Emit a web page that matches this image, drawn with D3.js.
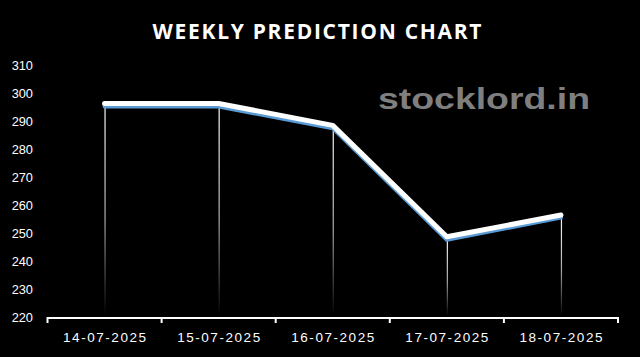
<!DOCTYPE html>
<html>
<head>
<meta charset="utf-8">
<script src="https://cdn.jsdelivr.net/npm/d3@7"></script>
<style>
html,body{margin:0;padding:0;background:#000;}
svg{display:block;}
</style>
</head>
<body>
<svg id="chart" width="640" height="357"></svg>
<script>
const categories = ["14-07-2025","15-07-2025","16-07-2025","17-07-2025","18-07-2025"];
const predicted = [296.6, 296.6, 288.8, 249.0, 256.8];
const actual = [295.5, 295.5, 287.8, 247.9, 255.9];
const yTicks = [220,230,240,250,260,270,280,290,300,310];
const titleText = "WEEKLY PREDICTION CHART";
const watermark = "stocklord.in";

const svg = d3.select("#chart");
svg.append("rect").attr("width",640).attr("height",357).attr("fill","#000");

const x = d3.scaleBand().domain(categories).range([47.5, 618]).paddingInner(0).paddingOuter(0);
const y = d3.scaleLinear().domain([220,310]).range([318,66]);
const cx = d => x(d) + x.bandwidth()/2;

// title
svg.append("text").attr("x",317).attr("y",39)
  .attr("text-anchor","middle")
  .attr("font-family","'Open Sans', sans-serif").attr("font-weight","bold")
  .attr("font-size",21).attr("fill","#fff")
  .attr("textLength",329).attr("lengthAdjust","spacing")
  .text(titleText);

// watermark
svg.append("text").attr("x",378).attr("y",109)
  .attr("font-family","'Liberation Sans', Arial, sans-serif").attr("font-weight","bold")
  .attr("font-size",30).attr("fill","#7f7f7f")
  .attr("textLength",212).attr("lengthAdjust","spacingAndGlyphs")
  .text(watermark);

// y labels
svg.append("g").selectAll("text").data(yTicks).join("text")
  .attr("x",33).attr("y",d=>y(d)).attr("dy","0.35em")
  .attr("text-anchor","end")
  .attr("font-family","'Liberation Sans', Arial, sans-serif")
  .attr("font-size",12.8).attr("fill","#fff")
  .text(d=>d);

// drop lines with gradient
const defs = svg.append("defs");
categories.forEach((c,i)=>{
  const g = defs.append("linearGradient").attr("id","dl"+i)
    .attr("gradientUnits","userSpaceOnUse")
    .attr("x1",0).attr("x2",0).attr("y1",y(predicted[i])).attr("y2",316);
  g.append("stop").attr("offset","0%").attr("stop-color","#ffffff");
  g.append("stop").attr("offset","55%").attr("stop-color","#aaaaaa");
  g.append("stop").attr("offset","100%").attr("stop-color","#000000");
});
svg.append("g").selectAll("line").data(categories).join("line")
  .attr("x1",d=>cx(d)+0.5).attr("x2",d=>cx(d)+0.5)
  .attr("y1",(d,i)=>y(predicted[i])).attr("y2",316)
  .attr("stroke",(d,i)=>"url(#dl"+i+")").attr("stroke-width",1.2);

// x axis
const axisG = svg.append("g").attr("transform","translate(0,318)");
axisG.append("line").attr("x1",x.range()[0]).attr("x2",x.range()[1])
  .attr("y1",0).attr("y2",0).attr("stroke","#fff").attr("stroke-width",2);
const bounds = categories.map(c=>x(c)).concat([x.range()[1]]);
axisG.selectAll("line.tick").data(bounds).join("line").attr("class","tick")
  .attr("x1",d=>d).attr("x2",d=>d).attr("y1",-1).attr("y2",5)
  .attr("stroke","#fff").attr("stroke-width",2);
axisG.selectAll("text").data(categories).join("text")
  .attr("x",d=>cx(d)).attr("y",24)
  .attr("text-anchor","middle")
  .attr("font-family","'Liberation Sans', Arial, sans-serif")
  .attr("font-size",13.5).attr("fill","#fff")
  .attr("textLength",83).attr("lengthAdjust","spacing")
  .text(d=>d);

// lines
const line = d3.line().x((d,i)=>cx(categories[i])).y(d=>y(d));
svg.append("path").datum(actual).attr("d",line)
  .attr("fill","none").attr("stroke","#5b9bd5").attr("stroke-width",4)
  .attr("stroke-linejoin","round").attr("stroke-linecap","round");
svg.append("path").datum(predicted).attr("d",line)
  .attr("fill","none").attr("stroke","#ffffff").attr("stroke-width",5)
  .attr("stroke-linejoin","round").attr("stroke-linecap","round");
</script>
</body>
</html>
